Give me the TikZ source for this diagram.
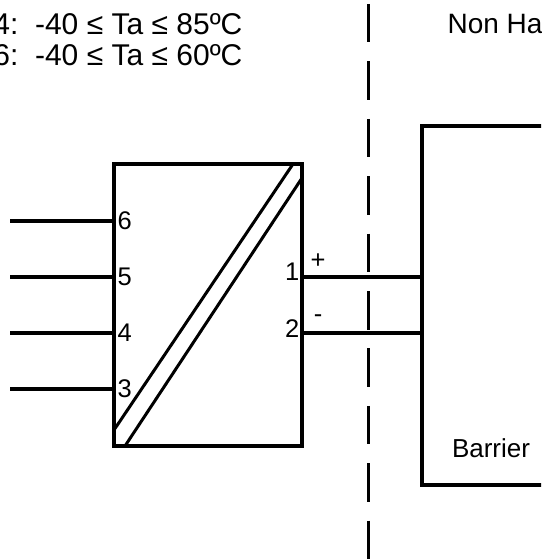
\documentclass[tikz,border=0pt]{standalone}
\usepackage{fontspec}
\setmainfont{Liberation Sans}
\usetikzlibrary{positioning}

\begin{document}
\begin{tikzpicture}[x=1pt, y=-1pt, line width=3.2pt]

\useasboundingbox (0,0) rectangle (541,559);
\clip (0,0) rectangle (541,559);

\tikzstyle{every node}=[inner sep=0pt, font=\fontsize{30}{30}\selectfont]
\draw    (244, 35)   node[anchor=base east] (tfour) {4:\ \ -40 ≤ Ta ≤ 85ºC}
         (244, 66)   node[anchor=base east] (tsix)  {6:\ \ -40 ≤ Ta ≤ 60ºC};
\node[anchor=base west, font=\fontsize{28}{28}\selectfont] (nonhaz) at (446, 34) {Non Ha};

\tikzstyle{every node}=[draw, inner sep=0pt, font=\fontsize{26}{26}\selectfont]
\draw    (208, 305)  node[minimum width=188pt, minimum height=282pt] (conv) {}
         (522, 305.5) node[minimum width=200pt, minimum height=359pt] (barr) {};
\node[draw=none] (barrlbl) at (491, 448) {Barrier};

\draw[line width=3pt] (114, 430) -- (293, 164);
\draw[line width=3pt] (125, 446) -- (302, 178);

\tikzstyle{every node}=[inner sep=0pt, font=\fontsize{25.5}{25.5}\selectfont]
\draw    (116, 221)  node[anchor=west] (pin6) {6}
         (116, 277)  node[anchor=west] (pin5) {5}
         (116, 333)  node[anchor=west] (pin4) {4}
         (116, 389)  node[anchor=west] (pin3) {3}
         (301, 272)  node[anchor=east] (pin1) {1}
         (301, 329)  node[anchor=east] (pin2) {2}
         (318, 261)  node (plus)  {+}
         (318, 319)  node (minus) {-};

\coordinate (w6) at (10, 221);
\coordinate (w5) at (10, 277);
\coordinate (w4) at (10, 333);
\coordinate (w3) at (10, 389);
\coordinate (o1) at (302, 277);
\coordinate (o2) at (302, 333);
\coordinate (b1) at (422, 277);
\coordinate (b2) at (422, 333);
\coordinate (septop) at (368, 4);
\coordinate (sepbot) at (368, 560);

\draw (w6) -- (w6 -| conv.west);
\draw (w5) -- (w5 -| conv.west);
\draw (w4) -- (w4 -| conv.west);
\draw (w3) -- (w3 -| conv.west);

\draw (o1) -- (b1);
\draw (o2) -- (b2);

\draw[line width=3pt, dash pattern=on 38.5pt off 18.9pt] (septop) -- (sepbot);

\end{tikzpicture}
\end{document}
